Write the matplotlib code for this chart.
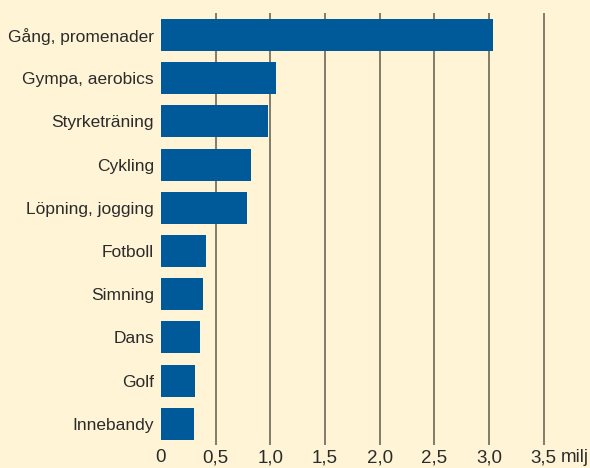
import matplotlib.pyplot as plt
import matplotlib.transforms as mtransforms

# Data
activities = ["Gång, promenader", "Gympa, aerobics", "Styrketräning", "Cykling",
              "Löpning, jogging", "Fotboll", "Simning", "Dans", "Golf", "Innebandy"]
values = [3.04, 1.05, 0.98, 0.82, 0.79, 0.41, 0.38, 0.36, 0.31, 0.30]
ticks = [0, 0.5, 1.0, 1.5, 2.0, 2.5, 3.0, 3.5]
tick_labels = ["0", "0,5", "1,0", "1,5", "2,0", "2,5", "3,0", "3,5"]
unit = "milj"

bg = "#fff5d6"
bar_color = "#005a9a"
text_color = "#2b2b2b"

plt.rcParams['font.family'] = ['Liberation Sans', 'DejaVu Sans']

fig = plt.figure(figsize=(5.9, 4.68), dpi=100, facecolor=bg)
ax = fig.add_axes([161 / 590, 23 / 468, 429 / 590, 432 / 468], facecolor=bg)

ax.set_xlim(0, 3.925)
ax.set_ylim(9.49, -0.51)

for t in ticks[1:]:
    ax.axvline(t, color="#5f5a4e", lw=1.1, zorder=1)

ax.barh(range(len(activities)), values, height=0.74, color=bar_color, zorder=2)

ax.set_yticks(range(len(activities)))
ax.set_yticklabels(activities)
ax.set_xticks(ticks)
ax.set_xticklabels(tick_labels)
ax.tick_params(axis="both", length=0, labelsize=12.5, colors=text_color)
ax.tick_params(axis="x", labelsize=13.5, pad=3)
ax.tick_params(axis="y", pad=5)

for s in ax.spines.values():
    s.set_visible(False)

trans = mtransforms.blended_transform_factory(ax.transData, ax.transAxes)
ax.text(3.66, -0.0085, unit, transform=trans, ha="left", va="top",
        fontsize=13.5, color=text_color, clip_on=False)

fig.savefig("out.png", dpi=100, facecolor=bg)
